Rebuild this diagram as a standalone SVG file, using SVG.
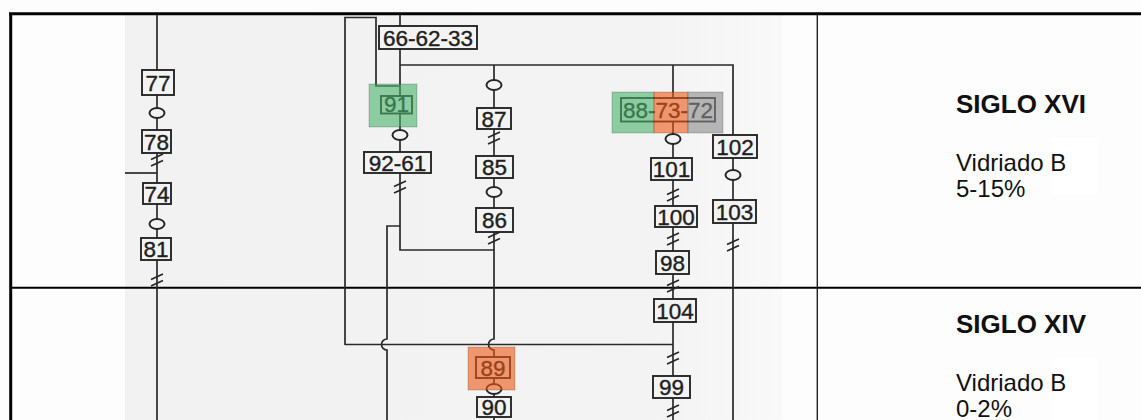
<svg xmlns="http://www.w3.org/2000/svg" xmlns:xlink="http://www.w3.org/1999/xlink" width="1141" height="420" viewBox="0 0 1141 420">
<defs>
<linearGradient id="scan" x1="125" y1="0" x2="782" y2="0" gradientUnits="userSpaceOnUse">
<stop offset="0" stop-color="#f2f2f2"/>
<stop offset="0.8" stop-color="#f3f3f3"/>
<stop offset="1" stop-color="#f9f9f9"/>
</linearGradient>
<path id="brk" d="M-6,-0.5 L6,-6 M-6,6 L6,0.5"/>
</defs>
<style>
.ln{fill:none;stroke:#2a2a2a;stroke-width:1.7}
.bx{fill:#f3f3f3;stroke:#262626;stroke-width:1.9}
.el{fill:#f3f3f3;stroke:#262626;stroke-width:2}
.br{fill:none;stroke:#262626;stroke-width:1.7}
.num{font-family:"Liberation Sans",Arial,sans-serif;font-size:22.5px;fill:#1f1f1f;stroke:#1f1f1f;stroke-width:0.4;text-anchor:middle}
.ov{stroke:rgba(0,0,0,0.18);stroke-width:1}
.h{font-family:"Liberation Sans",Arial,sans-serif;font-size:26px;font-weight:bold;fill:#111}
.t{font-family:"Liberation Sans",Arial,sans-serif;font-size:24px;fill:#111}
</style>
<rect x="0" y="0" width="1141" height="420" fill="#fdfdfd"/>
<rect x="125" y="15" width="657" height="405" fill="url(#scan)"/>
<rect x="1052" y="138" width="46" height="57" fill="#ffffff"/>
<rect x="1052" y="358" width="46" height="62" fill="#ffffff"/>

<g id="frame">
<line x1="9" y1="13.8" x2="1141" y2="13.8" stroke="#000" stroke-width="3"/>
<line x1="10.7" y1="13" x2="10.7" y2="420" stroke="#000" stroke-width="3"/>
<line x1="12" y1="287.8" x2="1141" y2="287.8" stroke="#000" stroke-width="2"/>
<line x1="817.3" y1="15" x2="817.3" y2="420" stroke="#222" stroke-width="1.4"/>
</g>

<g id="connectors">
<path class="ln" d="M157,15 V420"/>
<path class="ln" d="M125,173 H157"/>
<path class="ln" d="M345,345 V17.5 H376 V86 H400"/>
<path class="ln" d="M400,15 V250 H494"/>
<path class="ln" d="M400,226 H387 V339 A5.5,5.5 0 0 0 387,350 V420"/>
<path class="ln" d="M345,344.5 H673"/>
<path class="ln" d="M400,65 H733 V420"/>
<path class="ln" d="M494,65 V339 A5.5,5.5 0 0 0 494,350 V420"/>
<path class="ln" d="M673,65 V420"/>
<g class="br">
<use xlink:href="#brk" x="157" y="160"/>
<use xlink:href="#brk" x="157" y="280"/>
<use xlink:href="#brk" x="400" y="187"/>
<use xlink:href="#brk" x="494" y="138"/>
<use xlink:href="#brk" x="494" y="238"/>
<use xlink:href="#brk" x="673" y="195"/>
<use xlink:href="#brk" x="673" y="239"/>
<use xlink:href="#brk" x="673" y="286"/>
<use xlink:href="#brk" x="673" y="358"/>
<use xlink:href="#brk" x="673" y="411"/>
<use xlink:href="#brk" x="733" y="245"/>
</g>
<g>
<ellipse class="el" cx="157" cy="113" rx="7.5" ry="5"/>
<ellipse class="el" cx="157" cy="224" rx="7.5" ry="5"/>
<ellipse class="el" cx="400" cy="135" rx="7.5" ry="5"/>
<ellipse class="el" cx="494" cy="85" rx="7.5" ry="5"/>
<ellipse class="el" cx="494" cy="192" rx="7.5" ry="5"/>
<ellipse class="el" cx="494" cy="389" rx="7.5" ry="5"/>
<ellipse class="el" cx="673" cy="139" rx="7.5" ry="5"/>
<ellipse class="el" cx="733" cy="175" rx="7.5" ry="5"/>
</g>
</g>

<g id="n77"><rect class="bx" x="142" y="70" width="32" height="25"/><text class="num" x="158" y="90.5">77</text></g>
<g id="n78"><rect class="bx" x="142" y="130" width="29" height="23"/><text class="num" x="156.5" y="149.5">78</text></g>
<g id="n74"><rect class="bx" x="143" y="183" width="28" height="21"/><text class="num" x="157" y="201.5">74</text></g>
<g id="n81"><rect class="bx" x="141" y="238" width="30" height="22"/><text class="num" x="156" y="257">81</text></g>
<g id="n66-62-33"><rect class="bx" x="379" y="26" width="98" height="23"/><text class="num" x="428" y="45.5">66-62-33</text></g>
<g id="n91"><rect class="bx" x="381" y="96" width="31" height="17.5"/><text class="num" x="396.5" y="111.8" font-size="19.5">91</text></g>
<g id="n92-61"><rect class="bx" x="364" y="152" width="67" height="21"/><text class="num" x="397.5" y="170.5">92-61</text></g>
<g id="n87"><rect class="bx" x="477" y="108" width="34" height="21"/><text class="num" x="494" y="126.5">87</text></g>
<g id="n85"><rect class="bx" x="476" y="156" width="37" height="22"/><text class="num" x="494.5" y="175">85</text></g>
<g id="n86"><rect class="bx" x="476" y="208" width="37" height="24"/><text class="num" x="494.5" y="228">86</text></g>
<g id="n89"><rect class="bx" x="476" y="357" width="34" height="21"/><text class="num" x="493" y="375.5">89</text></g>
<g id="n90"><rect class="bx" x="477" y="397" width="34" height="20"/><text class="num" x="494" y="415">90</text></g>
<g id="n88-73-72"><rect class="bx" x="621" y="98" width="94" height="23.5"/><text class="num" x="668" y="118">88-73-72</text></g>
<g id="n101"><rect class="bx" x="651" y="158" width="41" height="22"/><text class="num" x="671.5" y="177">101</text></g>
<g id="n100"><rect class="bx" x="655" y="206" width="42" height="21"/><text class="num" x="676" y="224.5">100</text></g>
<g id="n98"><rect class="bx" x="656" y="251" width="33" height="23"/><text class="num" x="672.5" y="270.5">98</text></g>
<g id="n104"><rect class="bx" x="654" y="299" width="42" height="23"/><text class="num" x="675" y="318.5">104</text></g>
<g id="n99"><rect class="bx" x="653" y="376" width="37" height="22"/><text class="num" x="671.5" y="395">99</text></g>
<g id="n102"><rect class="bx" x="713" y="135" width="44" height="23"/><text class="num" x="735" y="154.5">102</text></g>
<g id="n103"><rect class="bx" x="713" y="200" width="43" height="23"/><text class="num" x="734.5" y="219.5">103</text></g>

<g id="highlights">
<rect class="ov" x="369" y="84" width="48" height="43" fill="rgb(72,178,105)" fill-opacity="0.6"/>
<rect class="ov" x="468" y="347" width="47" height="43" fill="rgb(238,88,22)" fill-opacity="0.6"/>
<rect class="ov" x="612" y="92" width="42" height="41" fill="rgb(72,178,105)" fill-opacity="0.6"/>
<rect class="ov" x="654" y="92" width="34" height="41" fill="rgb(238,88,22)" fill-opacity="0.6"/>
<rect class="ov" x="688" y="92" width="35" height="41" fill="rgb(138,138,138)" fill-opacity="0.6"/>
</g>

<g id="labels">
<text class="h" x="956" y="112.5">SIGLO XVI</text>
<text class="t" x="956" y="170.5">Vidriado B</text>
<text class="t" x="956" y="197">5-15%</text>
<text class="h" x="956" y="333">SIGLO XIV</text>
<text class="t" x="956" y="390.5">Vidriado B</text>
<text class="t" x="956" y="416.5">0-2%</text>
</g>
</svg>
